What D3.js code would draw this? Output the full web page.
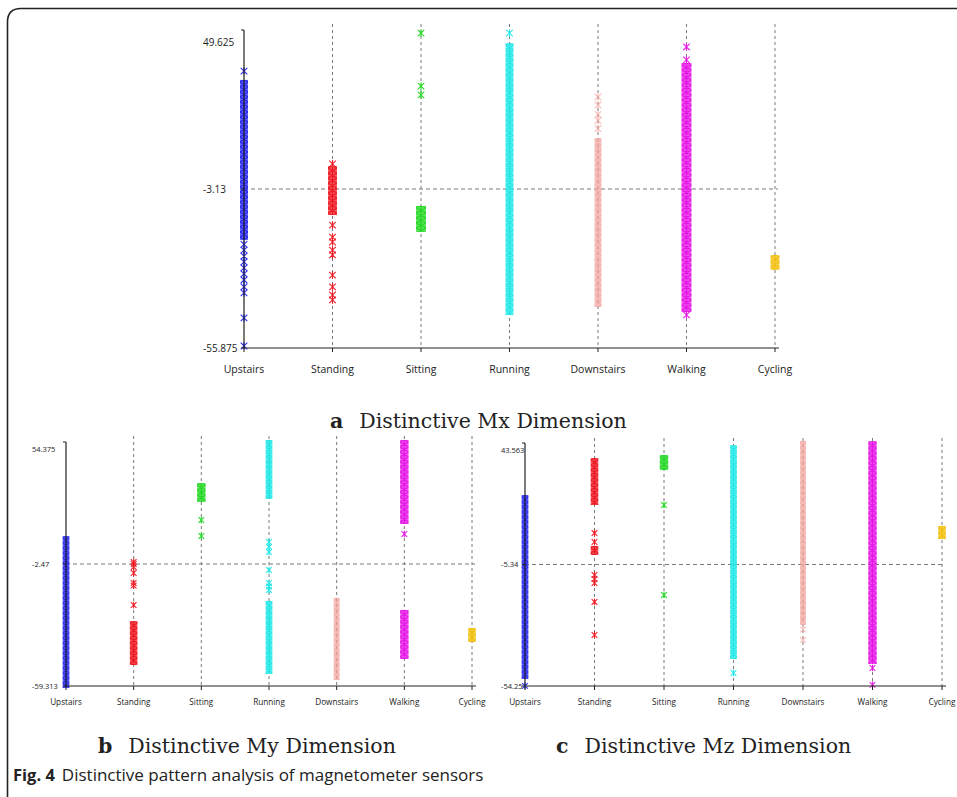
<!DOCTYPE html>
<html>
<head>
<meta charset="utf-8">
<script src="https://cdn.jsdelivr.net/npm/d3@7/dist/d3.min.js"></script>
<style>
  html, body { margin: 0; padding: 0; background: #fff; }
  svg { display: block; }
</style>
</head>
<body>
<svg id="fig" width="957" height="797"></svg>
<script>
// Activity classes along the horizontal axis
const categories = ["Upstairs", "Standing", "Sitting", "Running", "Downstairs", "Walking", "Cycling"];

// Axis tick values (max, mid, min) for each magnetometer dimension
const mxTicks = [49.625, -3.13, -55.875];
const myTicks = [54.375, -2.47, -59.313];
const mzTicks = [43.563, -5.34, -54.25];

// Dense runs of samples: [activity, low, high]
const mxBands = [
  ["Upstairs", -19.4, 32.4],
  ["Standing", -11.1, 3.8],
  ["Sitting", -16.7, -9.4],
  ["Running", -44.3, 44.6],
  ["Downstairs", -41.6, 13.1],
  ["Walking", -43.3, 38.0],
  ["Cycling", -29.3, -25.7]
];
// Isolated samples: [activity, value]
const mxPoints = [
  ["Upstairs", 36.0], ["Upstairs", -21.5], ["Upstairs", -23.4], ["Upstairs", -25.4], ["Upstairs", -27.3],
  ["Upstairs", -29.3], ["Upstairs", -31.3], ["Upstairs", -33.3], ["Upstairs", -35.6], ["Upstairs", -37.6],
  ["Upstairs", -45.9], ["Upstairs", -55.2],
  ["Standing", 5.2], ["Standing", -15.1], ["Standing", -19.1], ["Standing", -20.7], ["Standing", -23.4],
  ["Standing", -25.0], ["Standing", -31.7], ["Standing", -35.6], ["Standing", -38.3], ["Standing", -39.9],
  ["Sitting", 48.6], ["Sitting", 31.0], ["Sitting", 28.1],
  ["Running", 48.6],
  ["Downstairs", 27.4], ["Downstairs", 24.7], ["Downstairs", 21.6], ["Downstairs", 19.6], ["Downstairs", 16.9],
  ["Walking", 44.0], ["Walking", 39.7], ["Walking", -44.9]
];

const myBands = [
  ["Upstairs", -59.3, 9.6],
  ["Standing", -48.6, -30.0],
  ["Sitting", 27.4, 34.3],
  ["Running", 28.8, 54.4],
  ["Running", -52.8, -20.6],
  ["Downstairs", -55.6, -19.2],
  ["Walking", 17.1, 54.4],
  ["Walking", -45.8, -24.8],
  ["Cycling", -37.9, -33.2]
];
const myPoints = [
  ["Standing", -1.5], ["Standing", -2.5], ["Standing", -3.9], ["Standing", -6.7], ["Standing", -11.3],
  ["Standing", -12.5], ["Standing", -21.6],
  ["Sitting", 18.0], ["Sitting", 10.6],
  ["Running", 7.8], ["Running", 5.5], ["Running", 3.1], ["Running", -5.3], ["Running", -11.3],
  ["Running", -13.0], ["Running", -14.6],
  ["Walking", 11.5]
];

const mzBands = [
  ["Upstairs", -50.6, 21.8],
  ["Standing", 19.4, 36.7],
  ["Standing", -0.7, 1.3],
  ["Sitting", 33.5, 37.9],
  ["Running", -42.6, 41.9],
  ["Downstairs", -28.9, 43.6],
  ["Walking", -44.6, 43.5],
  ["Cycling", 5.7, 9.4]
];
const mzPoints = [
  ["Upstairs", -54.2],
  ["Standing", 7.3], ["Standing", 3.7], ["Standing", -9.6], ["Standing", -11.2], ["Standing", -12.8],
  ["Standing", -20.4], ["Standing", -33.7],
  ["Sitting", 18.6], ["Sitting", -17.6],
  ["Running", -49.0],
  ["Downstairs", -35.7], ["Downstairs", -31.5],
  ["Walking", -47.0], ["Walking", -53.8]
];

// Panel captions
const captions = [
  ["a", "Distinctive Mx Dimension"],
  ["b", "Distinctive My Dimension"],
  ["c", "Distinctive Mz Dimension"]
];
const figLabel = "Fig. 4";
const figTitle = "Distinctive pattern analysis of magnetometer sensors";

// ---- styling ----
const colors = {
  Upstairs: "#2424f2", Standing: "#ee1620", Sitting: "#22d822", Running: "#22e8e8",
  Downstairs: "#f29d97", Walking: "#e614e6", Cycling: "#f2c00c"
};
const bandWidth = { Upstairs: 8, Standing: 9, Sitting: 10, Running: 8, Downstairs: 7, Walking: 10, Cycling: 9 };
const bandOpacity = { Downstairs: 0.8 };

const svg = d3.select("#fig");
const defs = svg.append("defs");
const sans = "'Open Sans', 'Noto Sans', sans-serif";
const serif = "'DejaVu Serif', 'Liberation Serif', serif";

// figure frame (rounded top-left corner)
svg.append("path")
  .attr("d", "M7.5,797 V22 Q7.5,8.5 21,8.5 H957")
  .attr("fill", "none").attr("stroke", "#222").attr("stroke-width", 1.6);

const panels = [
  { key: "a", ticks: mxTicks, bands: mxBands, points: mxPoints,
    x0: 244, x1: 775, yTop: 30, yBot: 348, gridTop: 24, scaleW: 1,
    tickFont: 10, catFont: 10.5, tickX: 203, topOff: 12, catY: 373 },
  { key: "b", ticks: myTicks, bands: myBands, points: myPoints,
    x0: 66, x1: 472, yTop: 442, yBot: 686, gridTop: 436, scaleW: 0.85,
    tickFont: 7.5, catFont: 8.2, tickX: 32, topOff: 7, catY: 705 },
  { key: "c", ticks: mzTicks, bands: mzBands, points: mzPoints,
    x0: 525, x1: 942, yTop: 443, yBot: 686, gridTop: 438, scaleW: 0.85,
    tickFont: 7.5, catFont: 8.2, tickX: 501, topOff: 7, catY: 705 }
];

let patId = 0;
const star = (r) => `M${-r},${-r}L${r},${r}M${-r},${r}L${r},${-r}M0,${-r - 0.5}V${r + 0.5}`;

panels.forEach(p => {
  const g = svg.append("g");
  const x = d3.scalePoint().domain(categories).range([p.x0, p.x1]);
  const y = d3.scaleLinear().domain([p.ticks[2], p.ticks[0]]).range([p.yBot, p.yTop]);

  // vertical dashed guides at each activity
  g.selectAll("line.vg").data(categories.slice(1)).join("line")
    .attr("x1", d => x(d)).attr("x2", d => x(d))
    .attr("y1", p.gridTop).attr("y2", p.yBot)
    .attr("stroke", "#7a7a7a").attr("stroke-width", 1).attr("stroke-dasharray", "3,3");

  // horizontal dashed guide at the middle value
  g.append("line")
    .attr("x1", p.x0).attr("x2", p.x1 + 3)
    .attr("y1", y(p.ticks[1])).attr("y2", y(p.ticks[1]))
    .attr("stroke", "#7a7a7a").attr("stroke-width", 1).attr("stroke-dasharray", "4,3");

  // dense runs drawn as columns of overlapping star markers
  p.bands.forEach(([cat, lo, hi]) => {
    const w = bandWidth[cat] * p.scaleW;
    const bx = x(cat) - w / 2;
    const id = "pat" + (patId++);
    const pat = defs.append("pattern").attr("id", id)
      .attr("patternUnits", "userSpaceOnUse")
      .attr("x", bx).attr("y", y(hi)).attr("width", w).attr("height", 5);
    pat.append("rect").attr("width", w).attr("height", 5)
      .attr("fill", colors[cat]).attr("opacity", 0.7);
    pat.append("path")
      .attr("d", `M0,0L${w},5M0,5L${w},0M${w / 2},0V5`)
      .attr("stroke", colors[cat]).attr("stroke-width", 1.2).attr("fill", "none");
    g.append("rect")
      .attr("x", bx).attr("y", y(hi) - 2)
      .attr("width", w).attr("height", Math.max(4, y(lo) - y(hi) + 4))
      .attr("fill", `url(#${id})`)
      .attr("opacity", bandOpacity[cat] || 1);
  });

  // isolated samples
  g.selectAll("path.pt").data(p.points).join("path")
    .attr("transform", d => `translate(${x(d[0])},${y(d[1])})`)
    .attr("d", star(3 * (p.scaleW + 0.1)))
    .attr("fill", "none")
    .attr("stroke", d => colors[d[0]])
    .attr("stroke-width", 1.1)
    .attr("opacity", d => d[0] === "Downstairs" ? 0.65 : 0.95);

  // axes
  g.append("line").attr("x1", p.x0).attr("x2", p.x0).attr("y1", p.yTop).attr("y2", p.yBot)
    .attr("stroke", "#222").attr("stroke-width", 1.2);
  g.append("line").attr("x1", p.x0).attr("x2", p.x1 + 4).attr("y1", p.yBot).attr("y2", p.yBot)
    .attr("stroke", "#222").attr("stroke-width", 1.2);
  g.selectAll("line.xt").data(categories).join("line")
    .attr("x1", d => x(d)).attr("x2", d => x(d))
    .attr("y1", p.yBot).attr("y2", p.yBot + 4)
    .attr("stroke", "#222").attr("stroke-width", 1);
  g.selectAll("line.yt").data(p.ticks).join("line")
    .attr("x1", p.x0 - 3).attr("x2", p.x0)
    .attr("y1", d => y(d)).attr("y2", d => y(d))
    .attr("stroke", "#222").attr("stroke-width", 1);

  // tick labels
  g.selectAll("text.yl").data(p.ticks).join("text")
    .attr("x", p.tickX)
    .attr("y", (d, i) => y(d) + (i === 0 ? p.topOff : 0))
    .attr("dy", "0.35em")
    .attr("font-family", sans).attr("font-size", p.tickFont).attr("fill", "#222")
    .text(d => d);
  g.selectAll("text.xl").data(categories).join("text")
    .attr("x", d => x(d)).attr("y", p.catY)
    .attr("text-anchor", "middle")
    .attr("font-family", sans).attr("font-size", p.catFont).attr("fill", "#222")
    .text(d => d);
});

// panel captions
const capPos = [[330, 428], [98, 753], [556, 753]];
captions.forEach(([letter, title], i) => {
  const [cx, cy] = capPos[i];
  const t = svg.append("text").attr("x", cx).attr("y", cy)
    .attr("font-family", serif).attr("font-size", 20.5).attr("fill", "#222");
  t.append("tspan").attr("font-weight", "bold").text(letter);
  t.append("tspan").attr("dx", 16).text(title);
});

// figure caption
const fc = svg.append("text").attr("x", 13).attr("y", 781)
  .attr("font-family", sans).attr("font-size", 16.5).attr("fill", "#222");
fc.append("tspan").attr("font-weight", "bold").text(figLabel);
fc.append("tspan").attr("dx", 7).attr("font-size", 17).text(figTitle);
</script>
</body>
</html>
